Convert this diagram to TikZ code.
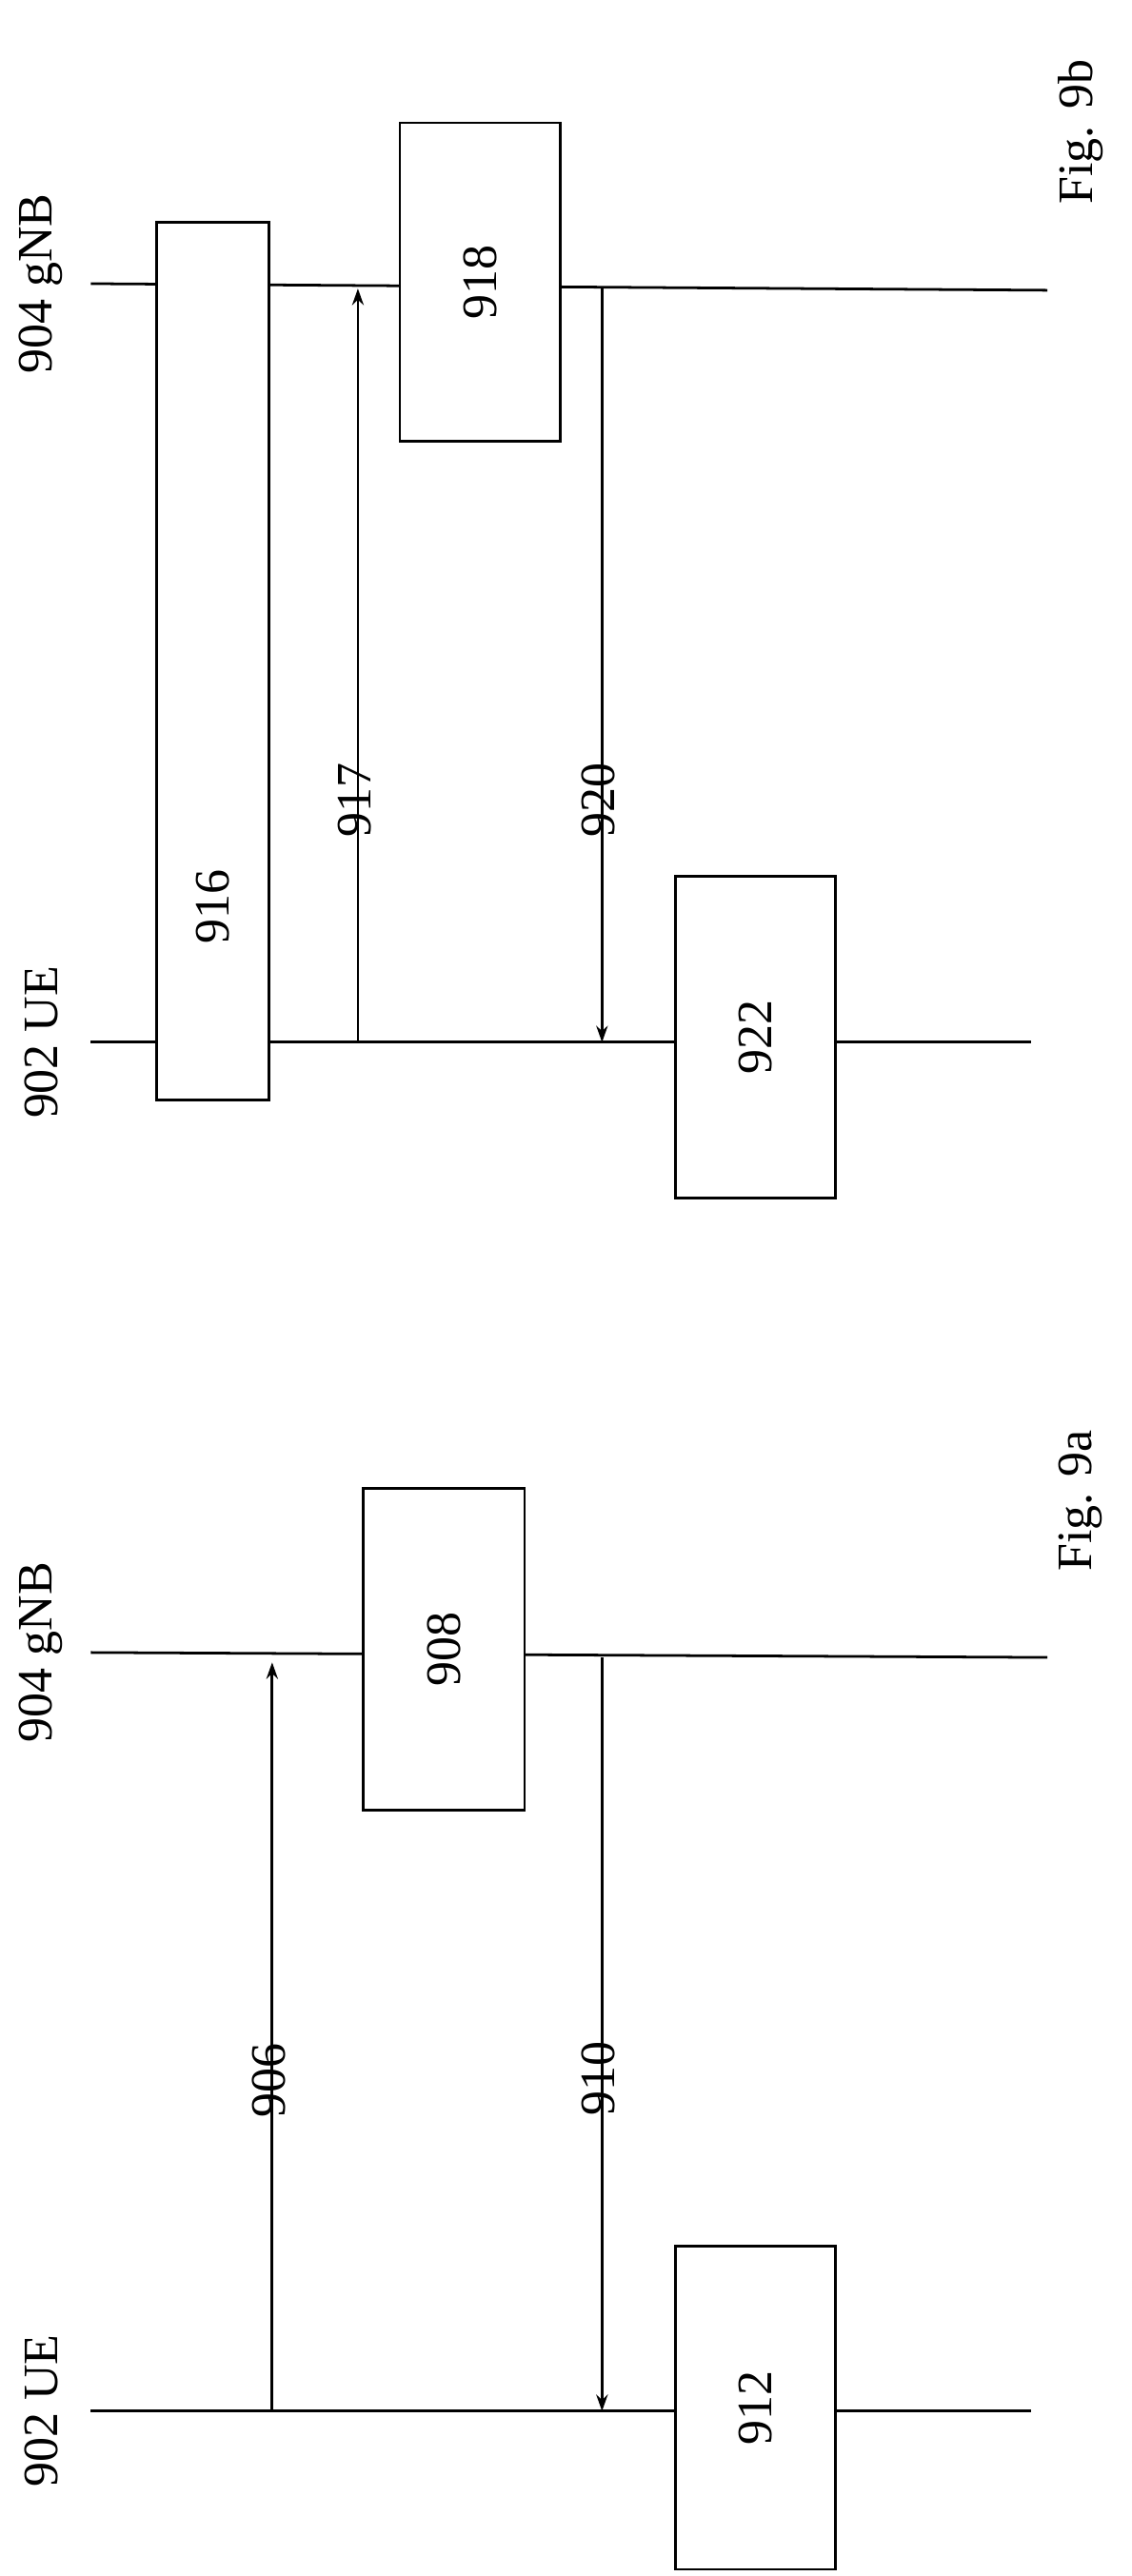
\documentclass[tikz,border=0pt]{standalone}
\usepackage{fontspec}
\setmainfont{Liberation Serif}
\usetikzlibrary{arrows.meta,positioning}
\tikzset{
  lane/.style={line width=1.6pt},
  box/.style={draw, line width=1.6pt, fill=white, rotate=90, inner sep=0pt},
  lbl/.style={rotate=90, font=\fontsize{30}{34}\selectfont},
  arrow/.style={-{Stealth[length=10pt,width=7pt]}, line width=1.6pt}
}
\begin{document}
\begin{tikzpicture}[x=1pt,y=-1pt]
    \useasboundingbox (0,0) rectangle (686,1562);
    % Lanes
    \draw[lane] (55,1462) coordinate (ueA0) -- (625,1462) coordinate (ueA1);
    \draw[lane] (55,1002) coordinate (gnbA0) -- (635,1005) coordinate (gnbA1);
    \draw[lane] (55,632) coordinate (ueB0) -- (625,632) coordinate (ueB1);
    \draw[lane] (55,172) coordinate (gnbB0) -- (635,176) coordinate (gnbB1);
    \node[lbl] (ueA) at (25,1462) {902 UE};
    \node[lbl] (gnbA) at (25,1002) {904 gNB};
    \node[lbl] (ueB) at (25,632) {902 UE};
    \node[lbl] (gnbB) at (25,172) {904 gNB};

    % Fig. 9a
    \coordinate (s906) at (165,1462);
    \coordinate (e906) at (165,1008);
    \draw[arrow] (s906) -- (e906) node[lbl, midway, left=2pt] (l906) {906};
    \node[box, minimum width=195pt, minimum height=98pt] (b908) at (269,1000) {};
    \node[lbl] at (b908) {908};
    \coordinate (s910) at (365,1005);
    \coordinate (e910) at (365,1462);
    \draw[arrow] (s910) -- (e910) node[lbl, midway, left=2pt] (l910) {910};
    \node[box, minimum width=196pt, minimum height=97pt] (b912) at (458,1460) {};
    \node[lbl] at (b912) {912};
    \node[lbl] (fig9a) at (655,910) {Fig. 9a};

    % Fig. 9b
    \node[box, minimum width=532pt, minimum height=68pt] (b916) at (129,401) {};
    \node[lbl] at (129,550) {916};
    \coordinate (s917) at (217,632);
    \coordinate (e917) at (217,175);
    \draw[arrow] (s917) -- (e917) node[lbl, pos=0.38, left=2pt] (l917) {917};
    \node[box, minimum width=193pt, minimum height=97pt] (b918) at (291,171) {};
    \node[lbl] at (b918) {918};
    \coordinate (s920) at (365,175);
    \coordinate (e920) at (365,632);
    \draw[arrow] (s920) -- (e920) node[lbl, pos=0.62, left=2pt] (l920) {920};
    \node[box, minimum width=195pt, minimum height=97pt] (b922) at (458,629) {};
    \node[lbl] at (b922) {922};
    \node[lbl] (fig9b) at (655,80) {Fig. 9b};
\end{tikzpicture}
\end{document}
